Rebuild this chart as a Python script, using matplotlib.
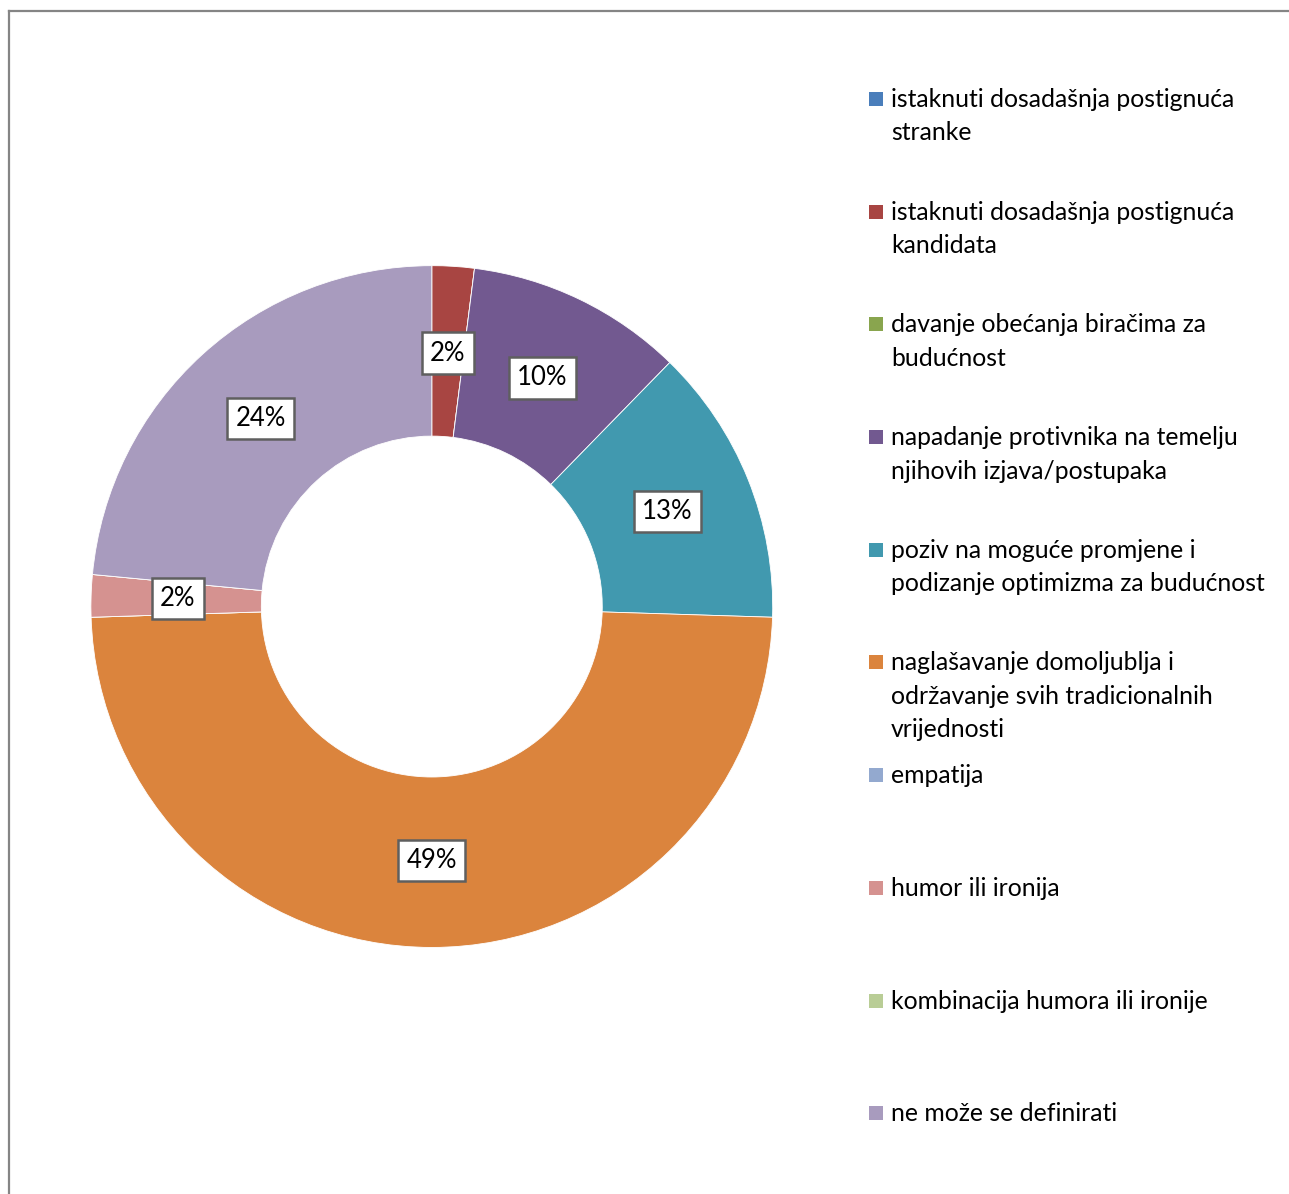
import matplotlib
matplotlib.use("Agg")
import matplotlib.pyplot as plt
from matplotlib.patches import Rectangle
from matplotlib.lines import Line2D
import numpy as np

plt.rcParams['font.family'] = ['Lato', 'DejaVu Sans']

# data (shares; labels as printed on the chart)
categories = [
    "istaknuti dosadašnja postignuća\nstranke",
    "istaknuti dosadašnja postignuća\nkandidata",
    "davanje obećanja biračima za\nbudućnost",
    "napadanje protivnika na temelju\nnjihovih izjava/postupaka",
    "poziv na moguće promjene i\npodizanje optimizma za budućnost",
    "naglašavanje domoljublja i\nodržavanje svih tradicionalnih\nvrijednosti",
    "empatija",
    "humor ili ironija",
    "kombinacija humora ili ironije",
    "ne može se definirati",
]
values = [0, 2.0, 0, 10.3, 13.2, 49.0, 0, 2.0, 0, 23.5]
pct_labels = ["", "2%", "", "10%", "13%", "49%", "", "2%", "", "24%"]
colors = ["#4A7EBB", "#A84542", "#89A54E", "#725990", "#4199AF",
          "#DB843D", "#93A9CF", "#D59290", "#B9CD96", "#A89BBE"]

fig = plt.figure(figsize=(12.89, 11.94), dpi=100)
ax = fig.add_axes([0.0705, 0.2065, 0.529, 0.571])

wedges, _ = ax.pie(values, colors=colors, startangle=90, counterclock=False,
                   radius=1.0, wedgeprops=dict(width=0.5, linewidth=0.6, edgecolor="white"))
ax.set_aspect("equal")
ax.set_xlim(-1, 1)
ax.set_ylim(-1, 1)

# percent labels
total = sum(values)
cum = 0
for v, lab in zip(values, pct_labels):
    if v > 0:
        mid = 90 - 360 * (cum + v / 2) / total
        r = 0.745
        x = r * np.cos(np.radians(mid))
        y = r * np.sin(np.radians(mid))
        ax.text(x, y, lab, ha="center", va="center", fontsize=18.5, color="black",
                bbox=dict(boxstyle="square,pad=0.32", facecolor="white",
                          edgecolor="#5f5f5f", linewidth=1.8))
    cum += v

# legend
top = 1 - 99 / 1194
step = 112.7 / 1194
for i, (lab, c) in enumerate(zip(categories, colors)):
    y = top - i * step
    fig.patches.append(Rectangle((869 / 1289, y - 7 / 1194), 14 / 1289, 14 / 1194,
                                 transform=fig.transFigure, facecolor=c, edgecolor="none"))
    fig.text(891 / 1289, y + 11 / 1194, lab, ha="left", va="top", fontsize=17.8,
             color="black", linespacing=1.55)

# frame
fig.add_artist(Line2D([8.5 / 1289, 8.5 / 1289], [0, 1 - 11 / 1194], color="#858585",
                      linewidth=1.6, transform=fig.transFigure))
fig.add_artist(Line2D([8.5 / 1289, 1288 / 1289], [1 - 11 / 1194, 1 - 11 / 1194], color="#858585",
                      linewidth=1.6, transform=fig.transFigure))

fig.savefig("out.png", dpi=100)
